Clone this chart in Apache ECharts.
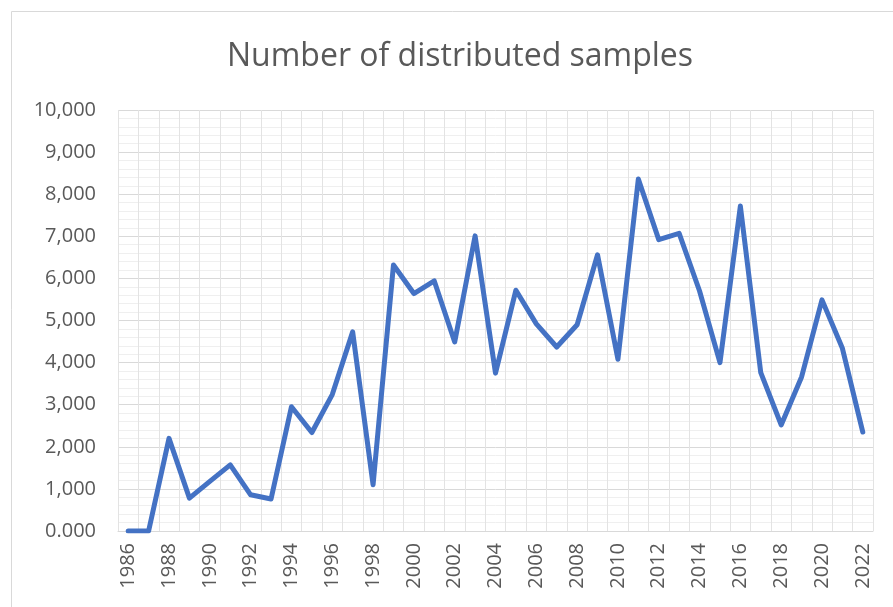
<!DOCTYPE html>
<html>
<head>
<meta charset="utf-8">
<script src="https://cdn.jsdelivr.net/npm/echarts@6/dist/echarts.min.js"></script>
<style>
  html, body { margin: 0; padding: 0; background: #fff; }
  #chart { width: 893px; height: 607px; }
</style>
</head>
<body>
<div id="chart"></div>
<script>
const years = []
for (let y = 1986; y <= 2022; y++) years.push(String(y))

const samples = [
  0, 0, 2200, 780, 1180, 1570, 860, 760, 2950, 2340,
  3240, 4730, 1100, 6320, 5640, 5940, 4490, 7010, 3750, 5720,
  4920, 4370, 4900, 6560, 4080, 8360, 6920, 7070, 5700, 4000,
  7720, 3760, 2520, 3660, 5490, 4340, 2350
]

const yTicks = { min: 0, max: 10000, step: 1000 }

const chart = echarts.init(document.getElementById('chart'))

chart.setOption({
  animation: false,
  title: {
    text: 'Number of distributed samples',
    left: 222,
    top: 36,
    textStyle: { fontFamily: 'Open Sans', fontWeight: 'normal', fontSize: 32, color: '#595959' }
  },
  graphic: [{
    type: 'rect',
    shape: { x: 11.5, y: 11.5, width: 900, height: 620 },
    style: { fill: 'none', stroke: '#d9d9d9', lineWidth: 1 },
    silent: true
  }],
  grid: { left: 118, right: 20, top: 110, bottom: 76 },
  xAxis: {
    type: 'category',
    data: years,
    boundaryGap: true,
    axisLine: { lineStyle: { color: '#d9d9d9', width: 1 } },
    axisTick: { show: false },
    axisLabel: {
      interval: 1,
      rotate: 90,
      margin: 12,
      fontFamily: 'Open Sans',
      fontSize: 20,
      color: '#595959'
    },
    splitLine: { show: true, interval: 0, lineStyle: { color: '#e3e3e3', width: 1 } }
  },
  yAxis: {
    type: 'value',
    min: yTicks.min,
    max: yTicks.max,
    interval: yTicks.step,
    axisLine: { show: false },
    axisTick: { show: false },
    axisLabel: {
      margin: 22,
      fontFamily: 'Open Sans',
      fontSize: 20,
      color: '#595959',
      formatter: function (v) { return v === 0 ? '0.000' : v.toLocaleString('en-US') }
    },
    splitLine: { lineStyle: { color: '#d9d9d9', width: 1 } },
    minorTick: { show: false, splitNumber: 5 },
    minorSplitLine: { show: true, lineStyle: { color: '#efefef', width: 1 } }
  },
  series: [{
    type: 'line',
    data: samples,
    symbol: 'none',
    lineStyle: { color: '#4472c4', width: 5, join: 'round', cap: 'round' },
    itemStyle: { color: '#4472c4' }
  }]
})
</script>
</body>
</html>
